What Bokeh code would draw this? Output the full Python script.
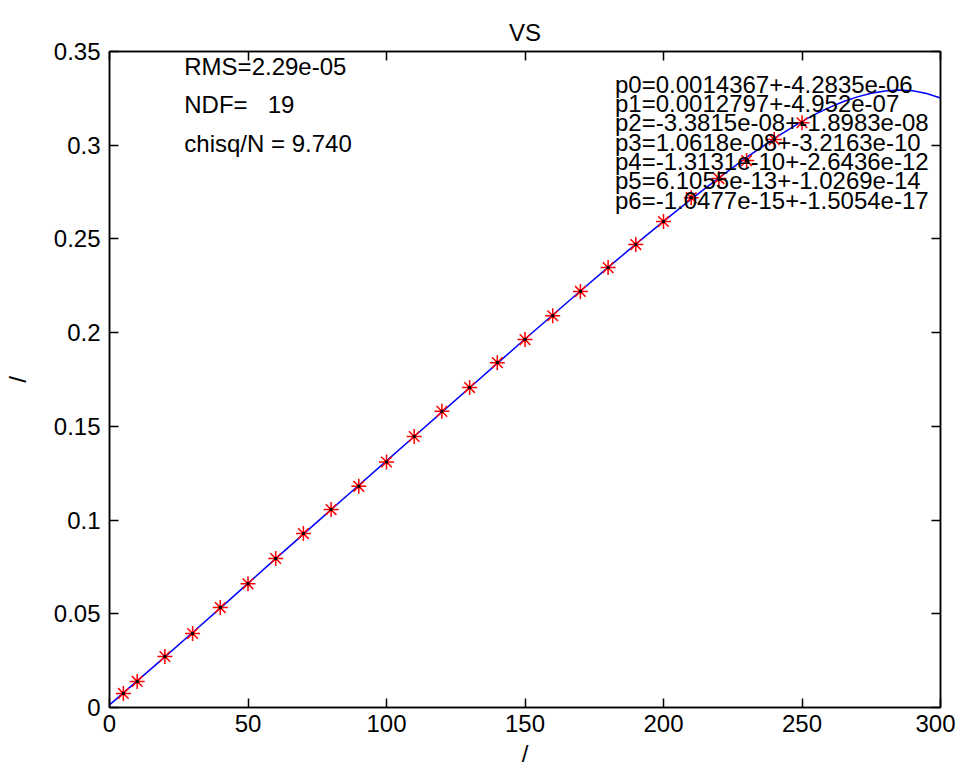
from bokeh.plotting import figure
from bokeh.models import LinearAxis, FixedTicker, Range1d, Label
from bokeh.embed import file_html
from bokeh.resources import INLINE

# measured points
pt_x = [5, 10, 20, 30, 40, 50, 60, 70, 80, 90, 100, 110, 120, 130, 140, 150,
        160, 170, 180, 190, 200, 210, 220, 230, 240, 250]
pt_y = [0.0075, 0.0139, 0.0272, 0.0395, 0.0533, 0.0660, 0.0795, 0.0928, 0.1056,
        0.1180, 0.1310, 0.1446, 0.1580, 0.1707, 0.1840, 0.1963, 0.2090, 0.2220,
        0.2347, 0.2470, 0.2593, 0.2720, 0.2822, 0.2918, 0.3030, 0.3120]
pt_err = [0.0008, 0.0008, 0.0008, 0.0008, 0.0008, 0.0008, 0.0008, 0.0008, 0.0008,
          0.0008, 0.0008, 0.0008, 0.0008, 0.0008, 0.0008, 0.0008, 0.0008, 0.0008,
          0.0008, 0.0008, 0.0008, 0.0008, 0.0008, 0.0008, 0.0008, 0.0008]

# fitted curve
fit_x = [0, 5, 10, 20, 30, 40, 50, 60, 70, 80, 90, 100, 110, 120, 130, 140, 150,
         160, 170, 180, 190, 200, 210, 220, 230, 240, 250, 255, 260, 265, 270,
         275, 280, 285, 290, 295, 300]
fit_y = [0.0014, 0.0078, 0.0142, 0.0270, 0.0400, 0.0530, 0.0662, 0.0794, 0.0925,
         0.1056, 0.1186, 0.1316, 0.1446, 0.1576, 0.1706, 0.1836, 0.1966, 0.2094,
         0.2222, 0.2348, 0.2472, 0.2594, 0.2712, 0.2826, 0.2935, 0.3036, 0.3127,
         0.3167, 0.3202, 0.3233, 0.3258, 0.3277, 0.3289, 0.3294, 0.3290, 0.3276,
         0.3252]

x_ticks = [0, 50, 100, 150, 200, 250, 300]
x_tick_labels = ["0", "50", "100", "150", "200", "250", "300"]
y_ticks = [0, 0.05, 0.1, 0.15, 0.2, 0.25, 0.3, 0.35]
y_tick_labels = ["0", "0.05", "0.1", "0.15", "0.2", "0.25", "0.3", "0.35"]

stats_text = ["RMS=2.29e-05", "NDF=\u00a0\u00a0\u00a019", "chisq/N = 9.740"]
param_text = ["p0=0.0014367+-4.2835e-06", "p1=0.0012797+-4.952e-07",
              "p2=-3.3815e-08+-1.8983e-08", "p3=1.0618e-08+-3.2163e-10",
              "p4=-1.3131e-10+-2.6436e-12", "p5=6.1055e-13+-1.0269e-14",
              "p6=-1.0477e-15+-1.5054e-17"]

FONT = "Liberation Sans"
FS = "24px"

p = figure(frame_width=831, frame_height=656, output_backend="svg", toolbar_location=None,
           x_range=Range1d(0, 300), y_range=Range1d(0, 0.35),
           min_border_left=99, min_border_right=15, min_border_top=51,
           min_border_bottom=58, title="VS", x_axis_label="/", y_axis_label="/")
p.title.align = "center"
p.title.vertical_align = "middle"
p.title.text_font = FONT
p.title.text_font_size = FS
p.title.text_font_style = "normal"
p.title.text_color = "black"
p.xgrid.visible = False
p.ygrid.visible = False
p.outline_line_color = "black"
p.outline_line_width = 1.5
p.background_fill_color = "white"
p.border_fill_color = "white"

def style(ax, ticks, labels, show):
    ax.ticker = FixedTicker(ticks=ticks)
    ax.major_label_overrides = {t: l for t, l in zip(ticks, labels)}
    ax.axis_line_color = "black"
    ax.axis_line_width = 1.5
    ax.major_tick_line_color = "black"
    ax.major_tick_line_width = 1.5
    ax.major_tick_in = 9
    ax.major_tick_out = 0
    ax.minor_tick_line_color = None
    ax.major_label_text_font = FONT
    ax.major_label_text_font_size = FS
    ax.major_label_text_color = "black" if show else None
    ax.axis_label_text_font = FONT
    ax.axis_label_text_font_size = FS
    ax.axis_label_text_font_style = "normal"
    ax.axis_label_text_color = "black"

style(p.xaxis[0], x_ticks, x_tick_labels, True)
style(p.yaxis[0], y_ticks, y_tick_labels, True)
p.xaxis[0].major_label_standoff = 7
p.xaxis[0].axis_label_standoff = 5
p.yaxis[0].major_label_standoff = 9
p.yaxis[0].axis_label_standoff = 20

ax_top = LinearAxis()
style(ax_top, x_ticks, [""] * len(x_ticks), False)
ax_top.major_label_text_font_size = "0px"
p.add_layout(ax_top, "above")
ax_right = LinearAxis()
style(ax_right, y_ticks, [""] * len(y_ticks), False)
ax_right.major_label_text_font_size = "0px"
p.add_layout(ax_right, "right")

p.line(fit_x, fit_y, line_color="blue", line_width=1.5)
p.scatter(pt_x, pt_y, marker="asterisk", size=15, line_color="red", line_width=1.5)
y0 = [y - e for y, e in zip(pt_y, pt_err)]
y1 = [y + e for y, e in zip(pt_y, pt_err)]
p.segment(pt_x, y0, pt_x, y1, line_color="black", line_width=3)

for i, t in enumerate(stats_text):
    p.add_layout(Label(x=27, y=0.342 - i * 0.0205, text=t, text_font=FONT,
                       text_font_size=FS, text_baseline="middle", text_color="black"))
for i, t in enumerate(param_text):
    p.add_layout(Label(x=182.5, y=0.3325 - i * 0.0103, text=t, text_font=FONT,
                       text_font_size=FS, text_baseline="middle", text_color="black"))

open("out.html", "w").write(file_html(p, INLINE))
